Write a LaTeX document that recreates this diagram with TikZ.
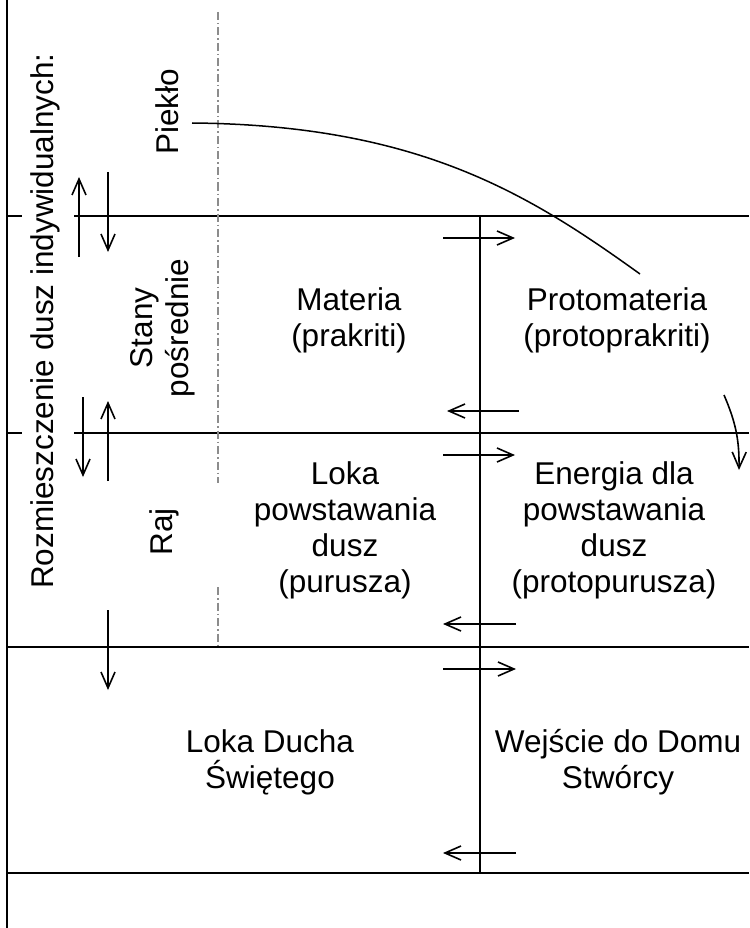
\documentclass[tikz,border=0pt]{standalone}
\usepackage{fontspec}
\setmainfont{Liberation Sans}
\usetikzlibrary{arrows.meta}
\definecolor{guidegray}{HTML}{8C8C8C}

\begin{document}
\begin{tikzpicture}[x=1pt,y=-1pt,
 frame/.style={line width=2pt},
 guide/.style={draw=guidegray,line width=1.6pt,dash pattern=on 8pt off 3pt on 1.5pt off 3pt},
 arr/.style={-{Straight Barb[length=16pt,width=14pt]},line width=1.6pt},
 lbl/.style={font=\fontsize{31.5}{36}\selectfont,align=center,inner sep=0pt},
 side/.style={lbl,rotate=90}
]
\useasboundingbox (0,0) rectangle (749,928);
\draw[frame] (7,0)--(7,928);
\draw[frame] (7,216)--(22,216) (74,216)--(749,216);
\draw[frame] (7,433)--(22,433) (74,433)--(749,433);
\draw[frame] (7,647)--(749,647);
\draw[frame] (7,873)--(749,873);
\draw[frame] (480,216)--(480,873);
\draw[guide] (218,12)--(218,483) (218,587)--(218,647);

\node[side,anchor=base] (roz) at (53,321) {Rozmieszczenie dusz indywidualnych:};
\node[side,anchor=base] (pk) at (178,112) {Piekło};
\node[side] (sp) at (163,328) {Stany\\pośrednie};
\node[side,anchor=base] (raj) at (172,532) {Raj};
\node[lbl] (mat) at (349,320) {Materia\\(prakriti)};
\node[lbl] (pmat) at (617,320) {Protomateria\\(protoprakriti)};
\node[lbl] (lpd) at (345,530) {Loka\\powstawania\\dusz\\(purusza)};
\node[lbl] (epd) at (614,530) {Energia dla\\powstawania\\dusz\\(protopurusza)};
\node[lbl] (lds) at (270,762) {Loka Ducha\\Świętego};
\node[lbl] (wds) at (618,762) {Wejście do Domu\\Stwórcy};

\draw[arr] (79,257)--(79,177); \draw[arr] (108,172)--(108,252);
\draw[arr] (83,397)--(83,477); \draw[arr] (108,481)--(108,401);
\draw[arr] (108,610)--(108,690);
\draw[arr] (443,238)--(515,238); \draw[arr] (519,411)--(447,411);
\draw[arr] (443,455)--(515,455); \draw[arr] (516,624)--(443,624);
\draw[arr] (443,669)--(516,669); \draw[arr] (516,853)--(443,853);

\coordinate (pkout) at (192,123); \coordinate (pmin) at (640,274);
\draw[line width=1.5pt] (pkout) .. controls (420,125) and (530,195) .. (pmin);
\coordinate (pmout) at (724,395); \coordinate (epin) at (739,470);
\draw[arr] (pmout) to[bend left=12] (epin);
\end{tikzpicture}
\end{document}
